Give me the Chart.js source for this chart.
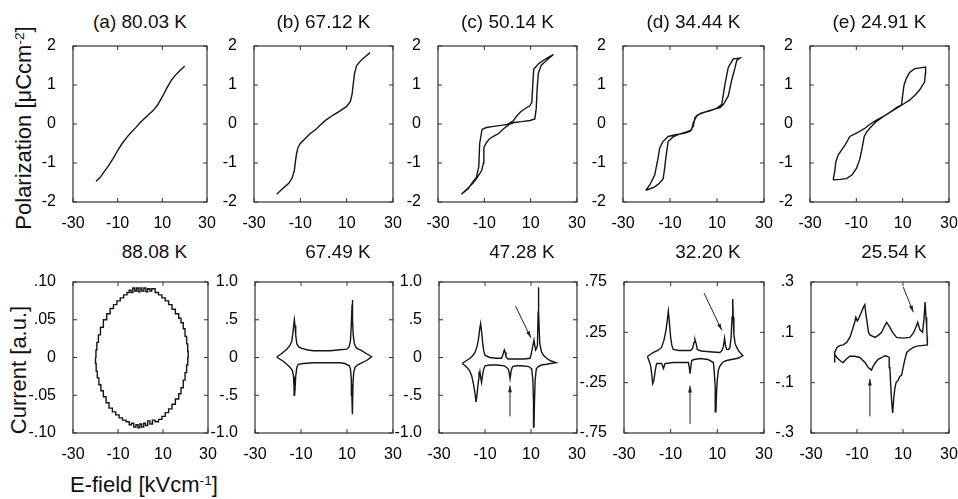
<!DOCTYPE html>
<html>
<head>
<meta charset="utf-8">
<script src="https://cdn.jsdelivr.net/npm/chart.js@4.4.0/dist/chart.umd.min.js"></script>
<style>
body { margin: 0; background: #fff; }
#fig { position: relative; width: 958px; height: 499px; overflow: hidden; background: #fff;
       font-family: "Liberation Sans", Arial, sans-serif; color: #111; }
#fig canvas { position: absolute; }
.ttl { position: absolute; font-size: 19px; transform: translate(-50%, -50%); white-space: nowrap; }
.lab { position: absolute; font-size: 22px; line-height: 22px; white-space: nowrap; }
.rot { transform: translate(-50%, -50%) rotate(-90deg); }
.lab sup { font-size: 0.62em; position: relative; top: -0.5em; vertical-align: baseline; }
</style>
</head>
<body>
<div id="fig">
  <div class="lab rot" style="left:25px; top:128px;">Polarization [μCcm<sup>-2</sup>]</div>
  <div class="lab rot" style="left:19px; top:370px;">Current [a.u.]</div>
  <div class="lab" style="left:70px; top:474px;">E-field [kVcm<sup>-1</sup>]</div>
</div>
<script>
// ---- titles
const topTitles = ['(a) 80.03 K', '(b) 67.12 K', '(c) 50.14 K', '(d) 34.44 K', '(e) 24.91 K']
const botTitles = ['88.08 K', '67.49 K', '47.28 K', '32.20 K', '25.54 K']

// ---- ticks
const xTicks = [-30, -10, 10, 30]
const xLabels = ['-30', '-10', '10', '30']
const polTicks = [-2, -1, 0, 1, 2]
const polLabels = ['-2', '-1', '0', '1', '2']
const curTicksA = [-0.1, -0.05, 0, 0.05, 0.1]
const curLabelsA = ['-.10', '-.05', '0', '.05', '.10']
const curTicksBC = [-1, -0.5, 0, 0.5, 1]
const curLabelsBC = ['-1.0', '-.5', '0', '.5', '1.0']
const curTicksD = [-0.75, -0.25, 0.25, 0.75]
const curLabelsD = ['-.75', '-.25', '.25', '.75']
const curTicksE = [-0.3, -0.1, 0.1, 0.3]
const curLabelsE = ['-.3', '-.1', '.1', '.3']

// ---- polarization loops [E, P]
const polA = [[-19.7,-1.47],[-18,-1.38],[-16,-1.22],[-14,-1.06],[-12,-0.88],[-10,-0.68],[-8,-0.5],[-6,-0.35],
  [-4,-0.22],[-2,-0.1],[0,0.03],[2,0.14],[4,0.25],[6,0.35],[8,0.5],[10,0.7],[12,0.92],[14,1.12],[16,1.26],[18,1.38],[20,1.48]]
const polB = [[-20.2,-1.8],[-17.5,-1.65],[-15,-1.52],[-13.5,-1.38],[-12.6,-1.2],[-12.1,-0.95],[-11.6,-0.75],[-11,-0.6],
  [-10,-0.5],[-8,-0.38],[-5.8,-0.25],[-3,-0.12],[-1.5,-0.03],[1,0.1],[4.2,0.23],[7,0.33],[10,0.45],[11.6,0.58],
  [12.3,0.75],[12.8,1.0],[13.4,1.3],[14.3,1.5],[16.5,1.65],[18.5,1.75],[20.1,1.83]]
const polC = [[-19.9,-1.8],[-17,-1.64],[-15,-1.52],[-13.4,-1.4],[-11.2,-1.2],[-10.4,-1.0],[-10.2,-0.6],[-9.1,-0.48],
  [-7.6,-0.37],[-5.5,-0.3],[-4,-0.25],[-1.8,-0.13],[1,0],[3,0.04],[6,0.06],[9.7,0.09],[11.8,0.13],[12.4,0.4],
  [12.8,0.9],[13.3,1.3],[14.5,1.5],[16.8,1.63],[19.8,1.78],
  [18,1.72],[16.2,1.66],[13.5,1.55],[11.3,1.4],[10.9,1.0],[10.5,0.55],[9.5,0.46],[8,0.41],[5.8,0.32],[3.9,0.2],
  [2.5,0.08],[0,-0.01],[-2,-0.03],[-6,-0.06],[-9.1,-0.09],[-11,-0.14],[-12,-0.5],[-12.4,-1.1],[-13.5,-1.38],
  [-14.9,-1.48],[-17,-1.66],[-19.9,-1.8]]
const polD = [[-20.3,-1.7],[-18.5,-1.66],[-16.5,-1.61],[-14.5,-1.52],[-12.9,-1.4],[-12.2,-1.1],[-11.8,-0.88],
  [-10.8,-0.45],[-8.7,-0.33],[-6,-0.26],[-3,-0.2],[-0.8,-0.15],[-0.1,0.03],[1.3,0.2],[3,0.27],[5.6,0.32],[9,0.38],
  [11.3,0.42],[12.7,0.5],[14.8,0.72],[16.2,1.11],[17.7,1.45],[18.4,1.63],[19.8,1.69],
  [18.5,1.68],[16.9,1.67],[14.8,1.45],[13.4,1.02],[12,0.5],[9.8,0.4],[7,0.34],[4.1,0.29],[1.5,0.22],[0.6,0.16],
  [-0.1,-0.06],[-1.5,-0.19],[-4,-0.24],[-7.2,-0.27],[-10.8,-0.32],[-13,-0.45],[-14.4,-0.62],[-15.1,-0.88],
  [-16.5,-1.31],[-18.5,-1.55],[-20.3,-1.7]]
const polE = [[-20,-1.43],[-17,-1.42],[-14.2,-1.4],[-11.8,-1.3],[-9.9,-1.13],[-8.6,-0.92],[-7.8,-0.71],[-7,-0.45],
  [-6.6,-0.32],[-5.5,-0.2],[-4.2,-0.11],[-1.5,0.06],[1.6,0.19],[4.5,0.3],[7.3,0.4],[10,0.5],[13,0.61],[15.5,0.75],
  [17.3,0.87],[19.5,1.08],[19.8,1.3],[19.9,1.46],
  [17.5,1.44],[15.2,1.42],[13,1.32],[11.6,1.17],[10.6,1.0],[10.2,0.83],[9.5,0.49],[7.5,0.43],[5.9,0.36],[2.5,0.22],
  [-1.3,0.1],[-4,0],[-6.3,-0.11],[-9.5,-0.22],[-12.8,-0.32],[-14.9,-0.54],[-17.8,-0.79],[-18.8,-0.96],[-19.3,-1.2],[-20,-1.43]]

// ---- current loops [E, I]
const curA = [[-20,0],[-19.8,0.01],[-19.4,0.02],[-18.7,0.03],[-17.8,0.04],[-16.5,0.05],[-15,0.058],[-13.5,0.065],
  [-12,0.07],[-10.5,0.075],[-9,0.079],[-7.5,0.083],[-6,0.086],[-5,0.089],[-4.2,0.086],[-3.4,0.092],[-2.6,0.088],
  [-1.8,0.092],[-1,0.087],[-0.2,0.092],[0.6,0.088],[1.5,0.092],[2.4,0.087],[3.2,0.091],[4.2,0.088],[5,0.091],
  [6.5,0.086],[8,0.083],[9.5,0.079],[11,0.075],[12.5,0.07],[14,0.064],[15.5,0.058],[17,0.052],[18,0.046],[19,0.038],
  [19.8,0.028],[20.5,0.018],[21,0.008],[21.2,0],
  [21,-0.01],[20.5,-0.02],[19.8,-0.03],[19,-0.04],[18,-0.048],[17,-0.055],[15.5,-0.062],[14,-0.068],[12.5,-0.073],
  [11,-0.078],[9.5,-0.082],[8,-0.085],[6.5,-0.083],[5.3,-0.088],[4.2,-0.084],[3.2,-0.09],[2.2,-0.087],[1.4,-0.092],
  [0.5,-0.088],[-0.3,-0.093],[-1.1,-0.089],[-2,-0.092],[-3,-0.087],[-4,-0.089],[-5,-0.085],[-6.4,-0.083],
  [-8,-0.08],[-9.5,-0.076],[-11,-0.072],[-12.5,-0.067],[-14,-0.06],[-15.3,-0.052],[-16.5,-0.044],[-17.6,-0.036],
  [-18.5,-0.027],[-19.2,-0.018],[-19.7,-0.008],[-20,0]]
const curB = [[-20.6,0.01],[-18.5,0.05],[-16.2,0.11],[-14.8,0.16],[-14,0.22],[-13.5,0.33],[-13.1,0.45],[-12.9,0.5],
  [-12.6,0.42],[-12.3,0.3],[-11.8,0.18],[-11,0.14],[-9.7,0.12],[-7,0.1],[-4.6,0.09],[0,0.09],[2.6,0.09],[6,0.1],
  [9.9,0.11],[10.9,0.14],[11.5,0.22],[11.9,0.45],[12.2,0.7],[12.3,0.76],[12.5,0.5],[12.7,0.3],[13.2,0.18],[14,0.13],
  [15,0.11],[16.4,0.09],[18.5,0.05],[20.7,0.01],
  [18.5,-0.04],[16.4,-0.07],[14.5,-0.1],[13.5,-0.13],[12.9,-0.2],[12.6,-0.35],[12.4,-0.6],[12.3,-0.75],[12.1,-0.5],
  [11.9,-0.3],[11.5,-0.15],[11,-0.11],[9,-0.08],[7,-0.07],[0,-0.07],[-4.6,-0.07],[-9,-0.08],[-11.2,-0.09],
  [-11.8,-0.13],[-12.3,-0.25],[-12.6,-0.42],[-12.8,-0.5],[-13,-0.4],[-13.3,-0.24],[-13.8,-0.17],[-14.8,-0.13],
  [-16.2,-0.09],[-17.7,-0.05],[-19.3,-0.02],[-20.6,0.01]]
const curC = [[-19.9,-0.08],[-18,-0.04],[-16.5,-0.01],[-15.2,0.03],[-14.3,0.07],[-13.5,0.14],[-12.9,0.23],
  [-12.3,0.38],[-11.9,0.45],[-11.5,0.35],[-11,0.19],[-10.5,0.08],[-10,0.03],[-8,0],[-5,-0.01],[-2.8,-0.01],
  [-2.2,0.04],[-1.6,0.1],[-1.2,0.07],[-0.9,0.01],[0,-0.02],[3.8,-0.02],[7,-0.02],[9.6,-0.01],[10.2,0.06],
  [10.7,0.14],[11.3,0.23],[11.7,0.15],[12,0.1],[12.4,0.12],[12.8,0.16],[13.1,0.6],[13.2,0.93],[13.4,0.6],
  [13.8,0.19],[14.5,0.08],[15.4,0.03],[16.8,-0.01],[18.3,-0.04],[20.9,-0.07],
  [18.5,-0.08],[16.8,-0.09],[14.5,-0.1],[13.2,-0.12],[12.3,-0.15],[11.8,-0.3],[11.5,-0.6],[11.3,-0.92],
  [11.1,-0.6],[10.8,-0.3],[10.3,-0.15],[9,-0.12],[6,-0.11],[3.8,-0.11],[2,-0.12],[1.4,-0.17],[0.9,-0.28],
  [0.5,-0.2],[0.1,-0.15],[-1.5,-0.11],[-4.9,-0.1],[-8,-0.1],[-10,-0.11],[-10.6,-0.16],[-11,-0.22],[-11.5,-0.33],
  [-11.9,-0.26],[-12.2,-0.19],[-12.6,-0.26],[-13,-0.35],[-13.5,-0.5],[-13.9,-0.59],[-14.3,-0.48],[-15.1,-0.34],
  [-15.8,-0.24],[-16.8,-0.17],[-18.2,-0.12],[-19.9,-0.08]]
const curD = [[-20,0.01],[-18.8,0.03],[-17.4,0.05],[-15.5,0.07],[-13.9,0.1],[-12.9,0.17],[-12,0.27],[-11.4,0.38],
  [-11,0.46],[-10.6,0.36],[-10,0.2],[-9.5,0.12],[-8.9,0.08],[-6.5,0.07],[-4.6,0.07],[-1.5,0.07],[-0.6,0.09],
  [0,0.15],[0.4,0.18],[0.9,0.14],[1.4,0.08],[3,0.065],[5.4,0.06],[8,0.055],[11.1,0.05],[12,0.07],[12.6,0.11],
  [13.1,0.19],[13.5,0.12],[14,0.08],[14.8,0.08],[15.4,0.1],[15.9,0.2],[16.3,0.4],[16.6,0.58],[16.8,0.4],
  [17.1,0.23],[17.6,0.14],[18.3,0.1],[19,0.07],[19.7,0.05],[20.9,0.02],
  [19.5,0],[18.3,-0.01],[16,-0.02],[14,-0.03],[12.8,-0.04],[11.9,-0.06],[11,-0.09],[10.4,-0.13],[10,-0.22],
  [9.7,-0.33],[9.5,-0.45],[9.4,-0.54],[9.2,-0.42],[9,-0.3],[8.7,-0.15],[8.3,-0.05],[6,-0.02],[2.6,-0.01],
  [0,-0.02],[-1,-0.03],[-1.4,-0.1],[-1.7,-0.16],[-2,-0.1],[-2.4,-0.05],[-5,-0.05],[-8.9,-0.05],[-12.4,-0.06],
  [-12.8,-0.09],[-13.1,-0.11],[-13.5,-0.08],[-13.9,-0.06],[-16,-0.06],[-16.4,-0.1],[-16.8,-0.16],[-17.2,-0.23],
  [-17.7,-0.26],[-18.1,-0.17],[-18.6,-0.08],[-19.3,-0.03],[-20,0.01]]
const curE = [[-19.7,-0.02],[-19.7,0.02],[-18.7,0.04],[-17.5,0.047],[-16,0.05],[-14.5,0.06],[-13.1,0.08],[-12,0.11],
  [-11,0.14],[-10.5,0.16],[-9.9,0.145],[-9.5,0.15],[-8.1,0.18],[-7.2,0.2],[-6.6,0.21],[-6.1,0.17],[-5.6,0.14],
  [-5,0.1],[-4.4,0.09],[-2.2,0.08],[-0.5,0.09],[0.7,0.1],[2,0.125],[2.9,0.14],[3.6,0.13],[4.3,0.12],[5.5,0.1],
  [7.2,0.08],[10,0.077],[13,0.08],[14.3,0.095],[15.2,0.11],[16.4,0.14],[17,0.12],[17.4,0.11],[18.5,0.1],
  [19.1,0.15],[19.6,0.22],[20,0.16],[20.3,0.12],[20.5,0.08],[20.6,0.05],
  [18,0.047],[16,0.045],[14.5,0.04],[12.8,0.03],[11.6,0.02],[10.5,-0.02],[9.4,-0.07],[8.6,-0.075],[7.9,-0.09],
  [7,-0.1],[6.5,-0.12],[6,-0.16],[5.5,-0.22],[5.1,-0.18],[4.6,-0.1],[4.3,-0.04],[4,0],[3,0.005],[2.1,0.007],
  [0.8,0],[-0.8,-0.007],[-2,-0.02],[-3,-0.035],[-3.7,-0.05],[-4.4,-0.045],[-5.1,-0.04],[-6.5,-0.02],[-8.8,0],
  [-11,0.005],[-13.1,0.005],[-14.5,-0.005],[-16,-0.02],[-17,-0.015],[-18.5,-0.003],[-19.7,0.012]]

// ---- arrows [x from, y from, x to, y to] in data units
const arrowsC = [[3.3, 0.68, 9.95, 0.26], [0.87, -0.78, 0.87, -0.37]]
const arrowsD = [[4.3, 0.64, 11.9, 0.27], [-1.7, -0.66, -1.7, -0.28]]
const arrowsE = [[10.1, 0.28, 14.5, 0.18], [-4.4, -0.234, -4.4, -0.085]]

// ---- layout (plot boxes in page pixels: left, top, right, bottom)
const topBoxes = [[73,46,207,202],[254,46,393,202],[438,46,577,202],[623,46,764,202],[810,46,949,202]]
const botBoxes = [[73,282,208,433],[255,282,393,433],[439,282,577,433],[624,282,764,433],[811,282,949,433]]
const PAD_L = 60, PAD_R = 14, PAD_T = 10, PAD_B = 30

const fig = document.getElementById('fig')
Chart.defaults.font.family = '"Liberation Sans", Arial, sans-serif'
Chart.defaults.font.size = 16
Chart.defaults.color = '#000'

const framePlugin = {
  id: 'frame',
  afterDatasetsDraw(chart, args, opts) {
    const { ctx, chartArea: a, scales } = chart
    ctx.save()
    ctx.strokeStyle = '#333'
    ctx.lineWidth = 1.2
    ctx.strokeRect(a.left, a.top, a.right - a.left, a.bottom - a.top)
    ctx.lineWidth = 1
    ctx.beginPath()
    scales.x.ticks.forEach(t => {
      const px = scales.x.getPixelForValue(t.value)
      ctx.moveTo(px, a.bottom); ctx.lineTo(px, a.bottom - 4)
      ctx.moveTo(px, a.top); ctx.lineTo(px, a.top + 4)
    })
    scales.y.ticks.forEach(t => {
      const py = scales.y.getPixelForValue(t.value)
      ctx.moveTo(a.left, py); ctx.lineTo(a.left + 4, py)
      ctx.moveTo(a.right, py); ctx.lineTo(a.right - 4, py)
    })
    ctx.stroke()
    // arrows
    ctx.strokeStyle = '#222'
    ctx.fillStyle = '#222'
    ;(opts.arrows || []).forEach(([x1, y1, x2, y2]) => {
      const p1x = scales.x.getPixelForValue(x1), p1y = scales.y.getPixelForValue(y1)
      const p2x = scales.x.getPixelForValue(x2), p2y = scales.y.getPixelForValue(y2)
      const ang = Math.atan2(p2y - p1y, p2x - p1x)
      ctx.beginPath(); ctx.moveTo(p1x, p1y); ctx.lineTo(p2x, p2y); ctx.stroke()
      ctx.beginPath()
      ctx.moveTo(p2x, p2y)
      ctx.lineTo(p2x - 7 * Math.cos(ang - 0.28), p2y - 7 * Math.sin(ang - 0.28))
      ctx.lineTo(p2x - 7 * Math.cos(ang + 0.28), p2y - 7 * Math.sin(ang + 0.28))
      ctx.closePath(); ctx.fill()
    })
    ctx.restore()
  }
}

function makePanel(box, series, yVals, yLabels, arrows, stepped) {
  const cv = document.createElement('canvas')
  cv.width = box[2] - box[0] + PAD_L + PAD_R
  cv.height = box[3] - box[1] + PAD_T + PAD_B
  cv.style.left = (box[0] - PAD_L) + 'px'
  cv.style.top = (box[1] - PAD_T) + 'px'
  fig.appendChild(cv)
  new Chart(cv, {
    type: 'scatter',
    data: {
      datasets: [{
        data: series.map(p => ({ x: p[0], y: p[1] })),
        showLine: true,
        borderColor: '#151515',
        borderWidth: 1.4,
        pointRadius: 0,
        tension: 0,
        stepped: stepped || false,
      }]
    },
    options: {
      responsive: false,
      animation: false,
      devicePixelRatio: 1,
      layout: { padding: { top: PAD_T, right: PAD_R, left: 0, bottom: 0 } },
      plugins: { legend: { display: false }, tooltip: { enabled: false }, frame: { arrows: arrows || [] } },
      scales: {
        x: {
          type: 'linear', min: -30, max: 30,
          afterBuildTicks: s => { s.ticks = xTicks.map(v => ({ value: v })) },
          ticks: { callback: (v, i) => xLabels[i], padding: 4, maxRotation: 0, autoSkip: false },
          grid: { display: false }, border: { display: false },
          afterFit: s => { s.height = PAD_B; s.paddingLeft = 0; s.paddingRight = 0 },
        },
        y: {
          type: 'linear', min: Math.min(...yVals), max: Math.max(...yVals),
          afterBuildTicks: s => { s.ticks = yVals.map(v => ({ value: v })) },
          ticks: { callback: (v, i) => yLabels[i], padding: 9, autoSkip: false },
          grid: { display: false }, border: { display: false },
          afterFit: s => { s.width = PAD_L; s.paddingTop = 0; s.paddingBottom = 0 },
        },
      },
    },
    plugins: [framePlugin],
  })
}

function addTitle(text, cx, cy) {
  const d = document.createElement('div')
  d.className = 'ttl'
  d.textContent = text
  d.style.left = cx + 'px'
  d.style.top = cy + 'px'
  fig.appendChild(d)
}

// top row: polarization
const pols = [polA, polB, polC, polD, polE]
pols.forEach((s, i) => makePanel(topBoxes[i], s, polTicks, polLabels))

// bottom row: current
makePanel(botBoxes[0], curA, curTicksA, curLabelsA, null, true)
makePanel(botBoxes[1], curB, curTicksBC, curLabelsBC)
makePanel(botBoxes[2], curC, curTicksBC, curLabelsBC, arrowsC)
makePanel(botBoxes[3], curD, curTicksD, curLabelsD, arrowsD)
makePanel(botBoxes[4], curE, curTicksE, curLabelsE, arrowsE)

topBoxes.forEach((b, i) => addTitle(topTitles[i], (b[0] + b[2]) / 2, 22))
botBoxes.forEach((b, i) => addTitle(botTitles[i], (b[0] + b[2]) / 2 + 14, 252))
</script>
</body>
</html>
